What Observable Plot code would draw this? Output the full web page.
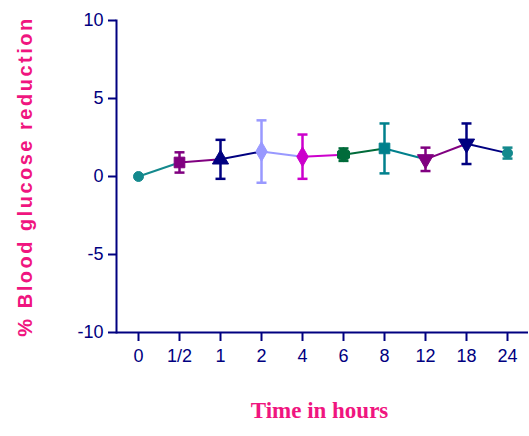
<!DOCTYPE html>
<html>
<head>
<meta charset="utf-8">
<script src="https://cdn.jsdelivr.net/npm/d3@7"></script>
<script src="https://cdn.jsdelivr.net/npm/@observablehq/plot@0.6"></script>
<style>
  html, body { margin: 0; padding: 0; background: #fff; }
  svg { display: block; }
  .ytitle text, text.ytitle, g[aria-label="y-title"] text, text[aria-label="y-title"] { letter-spacing: 2.5px; }
</style>
</head>
<body>
<div id="chart"></div>
<script>
const labels  = ["0", "1/2", "1", "2", "4", "6", "8", "12", "18", "24"];
const means   = [0, 0.9, 1.1, 1.6, 1.27, 1.4, 1.8, 1.1, 2.1, 1.5];
const errors  = [0, 0.65, 1.25, 2.0, 1.42, 0.4, 1.6, 0.75, 1.3, 0.35];
const colors  = ["#14898d", "#800080", "#000080", "#9999ff", "#cc00cc", "#006b3a", "#00808c", "#800080", "#000080", "#14898d"];
const symbols = ["circle", "square", "triangle", "diamond", "diamond", "hexagon", "square", "triangle", "triangle", "circle"];
const rotations = [0, 0, 0, 0, 0, 0, 0, 180, 180, 0];
const yTicks  = [-10, -5, 0, 5, 10];
const yTitle = "% Blood glucose reduction";
const xTitle = "Time in hours";

const data = labels.map((t, i) => ({
  t, v: means[i], e: errors[i], lo: means[i] - errors[i], hi: means[i] + errors[i],
  color: colors[i], symbol: symbols[i], rot: rotations[i]
}));
const segs = data.slice(0, -1).map((d, i) => ({
  x1: d.t, y1: d.v, x2: data[i + 1].t, y2: data[i + 1].v, color: d.color
}));
const withErr = data.filter(d => d.e > 0);

const navy = "#000080";
const pink = "#f0157f";

// horizontal cap symbol for error bars
const capSymbol = {draw(ctx) { ctx.moveTo(-5, 0); ctx.lineTo(5, 0); }};

const marks = [
  Plot.ruleY([-10], {stroke: navy, strokeWidth: 2}),
  Plot.frame({anchor: "left", stroke: navy, strokeWidth: 2}),
  Plot.axisY({ticks: yTicks, tickFormat: d => String(d), tickSize: 8, tickPadding: 5, fontSize: 18, stroke: navy, fill: navy, strokeWidth: 2}),
  Plot.axisX({tickSize: 9, tickPadding: 8, fontSize: 18, stroke: navy, fill: navy, strokeWidth: 2}),
  Plot.link(segs, {x1: "x1", y1: "y1", x2: "x2", y2: "y2", stroke: "color", strokeWidth: 2}),
  Plot.ruleX(withErr, {x: "t", y1: "lo", y2: "hi", stroke: "color", strokeWidth: 2.5}),
  Plot.dot(withErr, {x: "t", y: "lo", stroke: "color", strokeWidth: 2.5, symbol: capSymbol, fill: "none"}),
  Plot.dot(withErr, {x: "t", y: "hi", stroke: "color", strokeWidth: 2.5, symbol: capSymbol, fill: "none"})
];
for (const sym of ["circle", "square", "triangle", "diamond", "hexagon"]) {
  for (const rot of [0, 180]) {
    const sub = data.filter(d => d.symbol === sym && d.rot === rot);
    if (!sub.length) continue;
    marks.push(Plot.dot(sub, {x: "t", y: "v", fill: "color", stroke: "color", strokeWidth: 1, symbol: sym, r: sym === "circle" ? 5 : 6, rotate: rot}));
  }
}
marks.push(
  Plot.text([yTitle], {className: "ytitle", ariaLabel: "y-title", frameAnchor: "left", textAnchor: "middle", dx: -91, rotate: -90, fontSize: 20, fontWeight: "bold", fill: pink, fontFamily: "Liberation Sans, Arial, sans-serif"}),
  Plot.text([xTitle], {frameAnchor: "bottom", textAnchor: "middle", dy: 85, dx: -3, fontSize: 23, fontWeight: "bold", fill: pink, fontFamily: "Liberation Serif, serif"})
);

const chart = Plot.plot({
  width: 529,
  height: 436,
  marginLeft: 116,
  marginRight: 1,
  marginTop: 20,
  marginBottom: 104,
  style: {fontFamily: "Liberation Sans, Arial, sans-serif", background: "#fff", overflow: "visible"},
  x: {type: "point", domain: labels, padding: 0.51, label: null},
  y: {domain: [-10, 10], label: null},
  color: {type: "identity"},
  marks
});
document.getElementById("chart").appendChild(chart);
</script>
</body>
</html>
